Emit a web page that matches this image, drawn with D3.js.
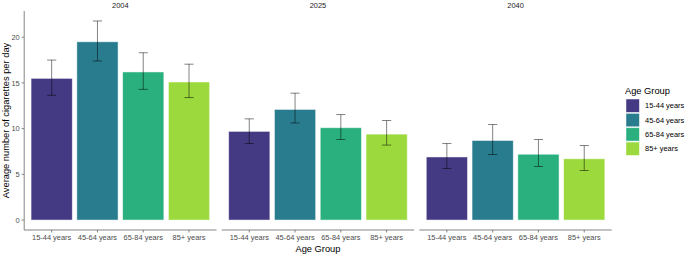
<!DOCTYPE html>
<html><head><meta charset="utf-8">
<script src="https://cdn.jsdelivr.net/npm/d3@7"></script>
<style>body{margin:0;background:#fff}svg{display:block;font-family:"Liberation Sans",Arial,sans-serif}</style>
</head><body><svg id="c" width="685" height="255"></svg>
<script>
const years = ["2004","2025","2040"];
const ageGroups = ["15-44 years","45-64 years","65-84 years","85+ years"];
const colors = ["#443a83","#287c8e","#2ab07f","#9bd93c"];
const means = {
  "2004":[15.5,19.5,16.2,15.1],
  "2025":[9.7,12.1,10.1,9.4],
  "2040":[6.9,8.7,7.2,6.7]
};
const lower = {
  "2004":[13.65,17.4,14.3,13.4],
  "2025":[8.37,10.62,8.81,8.2],
  "2040":[5.64,7.17,5.86,5.42]
};
const upper = {
  "2004":[17.5,21.78,18.3,17.05],
  "2025":[11.07,13.88,11.54,10.89],
  "2040":[8.37,10.45,8.81,8.15]
};
const yTicks = [0,5,10,15,20];

const svg = d3.select("#c");
const panelX0 = 24.2, panelW = 192.3, gap = 5.3;
const yTop = 11, yBot = 230;
const small = 7.45, big = 9.3;
const maxV = d3.max(years, y => d3.max(upper[y]));
const y = d3.scaleLinear().domain([-0.05*maxV, maxV*1.05]).range([yBot, yTop]);

years.forEach((yr, i) => {
  const x0 = panelX0 + i*(panelW+gap);
  const g = svg.append("g").attr("transform", `translate(${x0},0)`);
  const unit = panelW/4.2;
  const x = d3.scalePoint().domain(ageGroups).range([0.6*unit, panelW-0.6*unit]);
  const cx = d => x(d);
  const data = ageGroups.map((a,j)=>({a, v:means[yr][j], lo:lower[yr][j], hi:upper[yr][j], c:colors[j]}));
  g.selectAll("rect.bar").data(data).join("rect")
    .attr("x", d => cx(d.a) - 0.45*unit).attr("width", 0.9*unit)
    .attr("y", d => y(d.v)).attr("height", d => y(0) - y(d.v))
    .attr("fill", d => d.c).attr("stroke", "#ffffff").attr("stroke-opacity", 0.6).attr("stroke-width", 0.8);
  const eb = g.selectAll("g.eb").data(data).join("g").attr("stroke", "#000").attr("stroke-opacity", 0.55).attr("stroke-width", 0.9);
  eb.append("line").attr("x1", d=>cx(d.a)).attr("x2", d=>cx(d.a)).attr("y1", d=>y(d.lo)).attr("y2", d=>y(d.hi));
  eb.append("line").attr("x1", d=>cx(d.a)-0.1*unit).attr("x2", d=>cx(d.a)+0.1*unit).attr("y1", d=>y(d.lo)).attr("y2", d=>y(d.lo));
  eb.append("line").attr("x1", d=>cx(d.a)-0.1*unit).attr("x2", d=>cx(d.a)+0.1*unit).attr("y1", d=>y(d.hi)).attr("y2", d=>y(d.hi));
  // x axis
  g.append("line").attr("x1",0).attr("x2",panelW).attr("y1",yBot).attr("y2",yBot).attr("stroke","#666").attr("stroke-width",0.8);
  ageGroups.forEach(a => {
    g.append("line").attr("x1",cx(a)).attr("x2",cx(a)).attr("y1",yBot).attr("y2",yBot+2.5).attr("stroke","#666").attr("stroke-width",0.8);
    g.append("text").attr("x",cx(a)).attr("y",yBot+9.8).attr("text-anchor","middle").attr("font-size",small).attr("fill","#4d4d4d").text(a);
  });
  g.append("text").attr("x",panelW/2).attr("y",7.5).attr("text-anchor","middle").attr("font-size",small).attr("fill","#1a1a1a").text(yr);
  if (i===0) {
    g.append("line").attr("x1",0).attr("x2",0).attr("y1",yTop).attr("y2",yBot).attr("stroke","#666").attr("stroke-width",0.8);
    yTicks.forEach(t => {
      g.append("line").attr("x1",-2.5).attr("x2",0).attr("y1",y(t)).attr("y2",y(t)).attr("stroke","#666").attr("stroke-width",0.8);
      g.append("text").attr("x",-4.5).attr("y",y(t)+2.7).attr("text-anchor","end").attr("font-size",small).attr("fill","#4d4d4d").text(t);
    });
  }
});

svg.append("text").attr("transform",`translate(8.7,${(yTop+yBot)/2}) rotate(-90)`).attr("text-anchor","middle")
  .attr("font-size",big).attr("fill","#000").text("Average number of cigarettes per day");
svg.append("text").attr("x",panelX0 + (3*panelW+2*gap)/2).attr("y",251.5).attr("text-anchor","middle")
  .attr("font-size",big).attr("fill","#000").text("Age Group");

const lg = svg.append("g");
lg.append("text").attr("x",625).attr("y",94).attr("font-size",big).attr("fill","#000").text("Age Group");
ageGroups.forEach((a,j) => {
  lg.append("rect").attr("x",626).attr("y",99+j*14.35).attr("width",13.4).attr("height",13.4).attr("fill",colors[j]).attr("stroke","#fff").attr("stroke-opacity",0.6).attr("stroke-width",0.8);
  lg.append("text").attr("x",645).attr("y",99+j*14.35+9.3).attr("font-size",small).attr("fill","#000").text(a);
});
</script></body></html>
